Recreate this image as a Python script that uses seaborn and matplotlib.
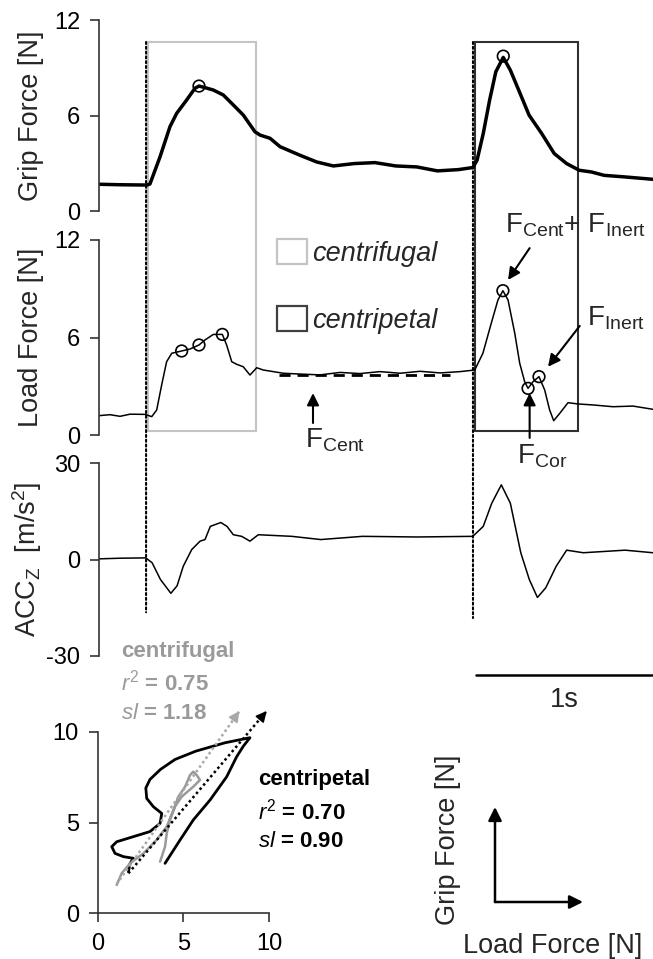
import numpy as np
import pandas as pd
import matplotlib
matplotlib.use("Agg")
import matplotlib.pyplot as plt
import seaborn as sns
from matplotlib.patches import Rectangle, Patch, ConnectionPatch

# ---------------- data ----------------
# time in seconds
grip_t = [0.000, 0.119, 0.271, 0.288, 0.345, 0.401, 0.439, 0.495, 0.542, 0.565, 0.599,
          0.646, 0.702, 0.759, 0.815, 0.881, 0.910, 0.966, 1.023, 1.136, 1.230, 1.324,
          1.442, 1.559, 1.677, 1.795, 1.912, 2.030, 2.112, 2.136, 2.171, 2.207, 2.242,
          2.284, 2.324, 2.371, 2.430, 2.501, 2.572, 2.642, 2.713, 2.783, 2.854, 2.972, 3.130]
grip_f = [1.68, 1.65, 1.63, 1.70, 3.41, 5.30, 6.14, 6.97, 7.71, 7.85, 7.75,
          7.60, 7.29, 6.66, 6.03, 4.98, 4.77, 4.57, 4.04, 3.50, 3.08, 2.83,
          2.98, 3.04, 2.83, 2.77, 2.52, 2.60, 2.73, 3.19, 4.87, 6.97, 8.75,
          9.65, 8.85, 7.60, 6.02, 4.87, 3.61, 2.98, 2.56, 2.45, 2.24, 2.14, 1.99]
grip_peak_t = [0.565, 2.284]
grip_peak_f = [7.85, 9.73]

load_t = [0.000, 0.062, 0.119, 0.175, 0.260, 0.298, 0.326, 0.354, 0.382, 0.411, 0.467,
          0.514, 0.565, 0.599, 0.646, 0.697, 0.721, 0.750, 0.778, 0.815, 0.853, 0.891,
          0.928, 0.985, 1.041, 1.136, 1.249, 1.362, 1.475, 1.588, 1.701, 1.814, 1.927,
          2.040, 2.123, 2.169, 2.216, 2.254, 2.282, 2.311, 2.349, 2.377, 2.405, 2.424,
          2.452, 2.486, 2.518, 2.546, 2.569, 2.603, 2.650, 2.706, 2.791, 2.904, 3.017, 3.130]
load_f = [1.19, 1.25, 1.15, 1.28, 1.27, 1.13, 1.54, 3.08, 4.51, 5.03, 5.17,
          5.29, 5.54, 5.85, 6.19, 6.19, 5.54, 4.51, 4.35, 4.20, 3.69, 4.14,
          4.00, 3.90, 3.80, 3.75, 3.70, 3.85, 3.78, 3.90, 3.80, 3.92, 3.82,
          3.90, 4.00, 5.03, 6.87, 8.31, 8.88, 8.31, 6.26, 4.41, 3.28, 2.87,
          3.28, 3.59, 2.77, 1.54, 0.88, 1.33, 1.99, 1.91, 1.85, 1.74, 1.78, 1.58]
load_peak_t = [0.467, 0.565, 0.697, 2.282, 2.424, 2.486]
load_peak_f = [5.17, 5.54, 6.19, 8.88, 2.87, 3.59]
fcent_t = [1.017, 1.983]
fcent_f = [3.69, 3.69]

acc_t = [0.000, 0.119, 0.264, 0.300, 0.347, 0.406, 0.441, 0.476, 0.524, 0.571, 0.599,
         0.629, 0.688, 0.723, 0.759, 0.806, 0.853, 0.900, 1.089, 1.253, 1.489, 1.795,
         2.112, 2.171, 2.219, 2.273, 2.324, 2.383, 2.431, 2.477, 2.524, 2.583, 2.642,
         2.736, 2.972, 3.130]
acc_v = [0.2, 0.4, 0.5, -1.0, -6.2, -10.5, -8.2, -2.1, 3.1, 5.7, 6.2,
         10.3, 11.5, 10.3, 7.7, 7.2, 5.7, 7.7, 7.2, 6.2, 7.2, 7.0,
         7.2, 10.3, 17.5, 23.2, 17.5, 2.1, -6.2, -11.8, -8.8, -2.1, 2.9,
         2.1, 2.9, 2.1]

onset_t = [0.266, 2.113]
centrifugal_win = [0.277, 0.887]
centripetal_win = [2.124, 2.706]
scalebar_t = [2.13, 3.13]

# grip force vs load force loops
cp_load = [3.93, 4.81, 5.58, 6.56, 7.53, 8.11, 8.50, 8.89, 7.43, 5.73, 4.51, 3.66,
           3.05, 2.81, 2.86, 3.25, 3.74, 3.64, 3.05, 2.08, 1.11, 0.82, 1.01, 1.50,
           2.08, 1.89, 1.79]
cp_grip = [2.75, 4.04, 5.14, 6.24, 7.52, 8.62, 9.20, 9.67, 9.39, 8.93, 8.47, 7.92,
           7.37, 6.90, 6.33, 5.87, 5.50, 4.95, 4.50, 4.22, 3.94, 3.67, 3.30, 3.12,
           3.03, 2.75, 2.29]
cf_load = [1.11, 1.40, 1.89, 2.67, 3.44, 4.03, 4.42, 4.71, 5.10, 5.39, 5.58, 5.78,
           5.97, 5.58, 4.90, 4.51, 4.22, 4.03, 3.93, 3.74, 3.64]
cf_grip = [1.56, 2.20, 2.75, 3.30, 4.04, 4.77, 5.69, 6.42, 6.97, 7.61, 7.80, 7.61,
           7.34, 6.97, 6.42, 5.87, 5.14, 4.40, 3.67, 3.12, 2.84]
cf_reg_x = [1.10, 8.28]
cf_reg_y = [1.60, 11.14]
cp_reg_x = [1.79, 9.87]
cp_reg_y = [2.20, 11.14]

# ---------------- style ----------------
sns.set_theme(style="white")
plt.rcParams["font.family"] = ["Liberation Sans", "DejaVu Sans"]
plt.rcParams["axes.unicode_minus"] = False
plt.rcParams["mathtext.fontset"] = "custom"
plt.rcParams["mathtext.rm"] = "Liberation Sans"
plt.rcParams["mathtext.it"] = "Liberation Sans:italic"
plt.rcParams["mathtext.bf"] = "Liberation Sans:bold"
plt.rcParams["mathtext.sf"] = "Liberation Sans"

W, H = 653, 959
fig = plt.figure(figsize=(W / 100, H / 100), dpi=100)
fig.patch.set_facecolor("white")


def ax_px(x0, y0, x1, y1):
    return fig.add_axes([x0 / W, 1 - y1 / H, (x1 - x0) / W, (y1 - y0) / H])


ax_g = ax_px(99, 20, 653, 211)
ax_l = ax_px(99, 240, 653, 435)
ax_a = ax_px(99, 463, 653, 656)
ax_s = ax_px(97.7, 731.7, 269, 913.3)

SP = "#333333"
FT = 17      # tick labels
FL = 19.5    # axis labels / big text
for ax in (ax_g, ax_l, ax_a, ax_s):
    ax.set_facecolor("none")
    for s in ("top", "right"):
        ax.spines[s].set_visible(False)
    for s in ("left", "bottom"):
        ax.spines[s].set_color(SP)
        ax.spines[s].set_linewidth(1.2)
    ax.tick_params(axis="both", which="both", direction="out", length=6.5, width=1.2,
                   color=SP, labelsize=FT, labelcolor="black", pad=7)

for ax in (ax_g, ax_l, ax_a):
    ax.spines["bottom"].set_visible(False)
    ax.set_xlim(0, 3.13)
    ax.set_xticks([])
    ax.tick_params(axis="x", bottom=False, labelbottom=False)
    ax.tick_params(axis="y", left=True)

# Grip force
sns.lineplot(x=grip_t, y=grip_f, ax=ax_g, color="black", lw=2.5, estimator=None)
ax_g.scatter(grip_peak_t, grip_peak_f, s=70, facecolors="none", edgecolors="black",
             linewidths=1.2, zorder=5)
ax_g.set_ylim(0, 12)
ax_g.set_yticks([0, 6, 12])
ax_g.set_ylabel("Grip Force [N]", fontsize=FL)

# Load force
sns.lineplot(x=load_t, y=load_f, ax=ax_l, color="black", lw=1.1, estimator=None)
ax_l.plot(fcent_t, fcent_f, color="black", lw=2, ls=(0, (4, 2.5)))
ax_l.scatter(load_peak_t, load_peak_f, s=70, facecolors="none", edgecolors="black",
             linewidths=1.2, zorder=5)
ax_l.set_ylim(0, 12)
ax_l.set_yticks([0, 6, 12])
ax_l.set_ylabel("Load Force [N]", fontsize=FL)

# Acceleration
sns.lineplot(x=acc_t, y=acc_v, ax=ax_a, color="black", lw=1.1, estimator=None)
ax_a.set_ylim(-30, 30)
ax_a.set_yticks([-30, 0, 30])
ax_a.set_ylabel(r"ACC$_\mathregular{Z}$  [m/s$^\mathregular{2}$]", fontsize=FL)

for ax in (ax_g, ax_l, ax_a):
    ax.yaxis.set_label_coords(-0.10, 0.5)

# boxes spanning grip + load panels
def to_g(ax, t, v):
    d = ax.transData.transform((t, v))
    return ax_g.transData.inverted().transform(d)

box_top = 10.62
box_bot = to_g(ax_l, 0, 0.25)[1]
for win, ec in ((centrifugal_win, "#c4c4c4"), (centripetal_win, "#303030")):
    ax_g.add_patch(Rectangle((win[0], box_bot), win[1] - win[0], box_top - box_bot,
                             fill=False, ec=ec, lw=1.5, clip_on=False, zorder=1))

for t, vb in zip(onset_t, [-16.4, -18.2]):
    cp = ConnectionPatch(xyA=(t, box_top), coordsA=ax_g.transData,
                         xyB=(t, vb), coordsB=ax_a.transData,
                         color="black", lw=1.5, ls=(0, (1, 1.3)))
    fig.add_artist(cp)

# legend
handles = [Patch(facecolor="none", edgecolor="#c4c4c4", lw=1.6, label="centrifugal"),
           Patch(facecolor="none", edgecolor="#404040", lw=1.6, label="centripetal")]
fig.legend(handles=handles, loc="upper left", bbox_to_anchor=(277 / W, 1 - 239 / H),
           frameon=False, borderpad=0, borderaxespad=0, handlelength=1.1,
           handleheight=1.05, labelspacing=1.45, handletextpad=0.2,
           prop=dict(style="italic", size=FL))

# annotations on load panel
arr = dict(arrowstyle="-|>", color="black", lw=1.5, mutation_scale=18,
           shrinkA=0, shrinkB=0)
FSA = 20
ax_l.annotate(r"F$_\mathregular{Cent}$+ F$_\mathregular{Inert}$", xy=(2.311, 9.54),
              xytext=(2.689, 12.9), ha="center", va="center", fontsize=FSA,
              annotation_clip=False)
ax_l.annotate("", xy=(2.311, 9.54), xytext=(2.433, 11.5), arrowprops=arr,
              annotation_clip=False)
ax_l.annotate(r"F$_\mathregular{Inert}$", xy=(2.92, 7.2), ha="center", va="center",
              fontsize=FSA, annotation_clip=False)
ax_l.annotate("", xy=(2.537, 4.20), xytext=(2.716, 6.71), arrowprops=arr,
              annotation_clip=False)
ax_l.annotate(r"F$_\mathregular{Cor}$", xy=(2.503, -1.3), ha="center", va="center",
              fontsize=FSA, annotation_clip=False)
ax_l.annotate("", xy=(2.433, 2.58), xytext=(2.433, -0.18), arrowprops=arr,
              annotation_clip=False)
ax_l.annotate(r"F$_\mathregular{Cent}$", xy=(1.333, -0.3), ha="center", va="center",
              fontsize=FSA, annotation_clip=False)
ax_l.annotate("", xy=(1.209, 2.58), xytext=(1.209, 0.74), arrowprops=arr,
              annotation_clip=False)

# scale bar
ax_a.plot(scalebar_t, [-35.8, -35.8], color="black", lw=1.8, clip_on=False)
ax_a.text(np.mean(scalebar_t), -43.6, "1s", ha="center", va="center", fontsize=FL)

# ---------------- grip vs load plot ----------------
sns.lineplot(x=cp_load, y=cp_grip, ax=ax_s, sort=False, estimator=None,
             color="black", lw=2.0)
sns.lineplot(x=cf_load, y=cf_grip, ax=ax_s, sort=False, estimator=None,
             color="#9a9a9a", lw=1.8)
for rx, ry, c in ((cf_reg_x, cf_reg_y, "#a8a8a8"), (cp_reg_x, cp_reg_y, "black")):
    ax_s.plot(rx, ry, color=c, lw=1.8, ls=(0, (1, 1.2)), clip_on=False)
    dx, dy = rx[1] - rx[0], ry[1] - ry[0]
    L = np.hypot(dx, dy)
    ax_s.annotate("", xy=(rx[1], ry[1]),
                  xytext=(rx[1] - 0.6 * dx / L, ry[1] - 0.6 * dy / L),
                  arrowprops=dict(arrowstyle="-|>", color=c, lw=1.2, mutation_scale=16,
                                  shrinkA=0, shrinkB=0), annotation_clip=False)
ax_s.set_xlim(0, 10)
ax_s.set_ylim(0, 10)
ax_s.set_xticks([0, 5, 10])
ax_s.set_yticks([0, 5, 10])
ax_s.tick_params(axis="x", bottom=True, pad=8)
ax_s.tick_params(axis="y", left=True)

FSS = 16
gray = "#9a9a9a"
ax_s.text(1.36, 14.4, "centrifugal", color=gray, fontweight="bold", fontsize=FSS,
          ha="left", va="center", clip_on=False)
ax_s.text(1.36, 12.7, r"$\mathit{r}^{2}$ = 0.75", color=gray, fontweight="bold",
          fontsize=FSS, ha="left", va="center", clip_on=False)
ax_s.text(1.36, 11.0, r"$\mathit{sl}$ = 1.18", color=gray, fontweight="bold",
          fontsize=FSS, ha="left", va="center", clip_on=False)
ax_s.text(9.36, 7.36, "centripetal", color="black", fontweight="bold", fontsize=FSS,
          ha="left", va="center", clip_on=False)
ax_s.text(9.36, 5.6, r"$\mathit{r}^{2}$ = 0.70", color="black", fontweight="bold",
          fontsize=FSS, ha="left", va="center", clip_on=False)
ax_s.text(9.36, 3.95, r"$\mathit{sl}$ = 0.90", color="black", fontweight="bold",
          fontsize=FSS, ha="left", va="center", clip_on=False)

# axis-key arrows bottom right
key = dict(arrowstyle="-|>", color="black", lw=1.8, mutation_scale=20, shrinkA=0, shrinkB=0)
ax_s.annotate("", xy=(495, H - 807), xycoords="figure pixels",
              xytext=(495, H - 902), textcoords="figure pixels", arrowprops=key)
ax_s.annotate("", xy=(583, H - 902), xycoords="figure pixels",
              xytext=(495, H - 902), textcoords="figure pixels", arrowprops=key)
fig.text(448 / W, 1 - 840 / H, "Grip Force [N]", rotation=90, ha="center", va="center",
         fontsize=FL)
fig.text(553 / W, 1 - 946 / H, "Load Force [N]", ha="center", va="center", fontsize=FL)

fig.savefig("out.png", dpi=100, facecolor="white")
